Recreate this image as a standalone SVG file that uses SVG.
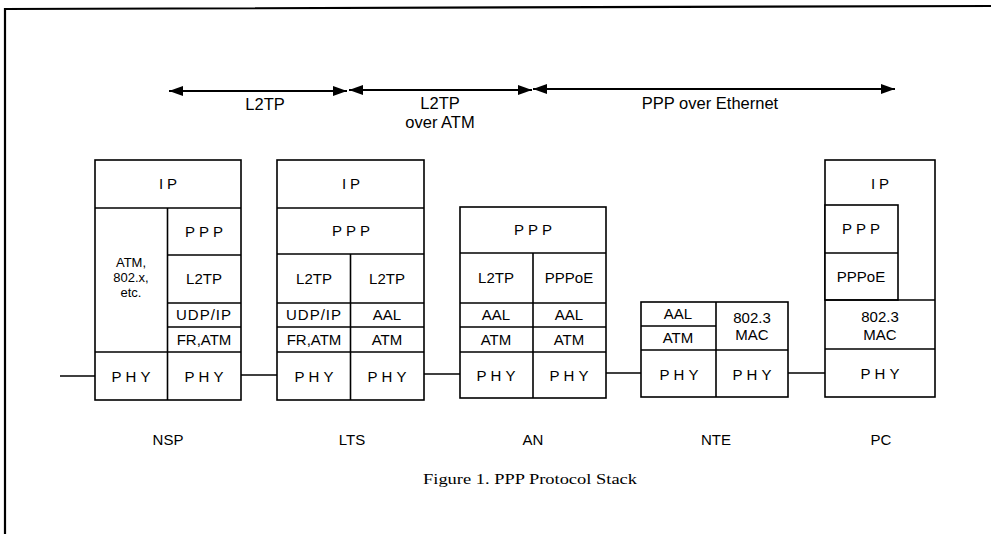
<svg xmlns="http://www.w3.org/2000/svg" width="991" height="534" viewBox="0 0 991 534">
<style>
  .bx{fill:#fff;stroke:#000;stroke-width:1.6}
  .ln{stroke:#000;stroke-width:1.6;fill:none}
  .t{font-family:"Liberation Sans",Arial,sans-serif;font-size:15px;fill:#000;text-anchor:middle}
  .s{font-size:13px}
  .sp{letter-spacing:4px}
  .a{font-family:"Liberation Sans",Arial,sans-serif;font-size:16.5px;fill:#000;text-anchor:middle}
  .cap{font-family:"Liberation Serif","Times New Roman",serif;font-size:15px;fill:#000;text-anchor:middle}
  .arr{stroke:#000;stroke-width:1.8;fill:none;marker-start:url(#ah);marker-end:url(#ah)}
</style>
<defs>
  <marker id="ah" viewBox="0 0 14 10" refX="14" refY="5" markerWidth="14" markerHeight="10" markerUnits="userSpaceOnUse" orient="auto-start-reverse">
    <path d="M0,0 L14,5 L0,10 z" fill="#000"/>
  </marker>
</defs>
<rect width="991" height="534" fill="#fff"/>
<!-- frame -->
<path d="M5,534 L5,9 L991,6" stroke="#000" stroke-width="2.2" fill="none"/>

<!-- range arrows -->
<g id="ranges">
  <line class="arr" x1="169" y1="91" x2="347" y2="91"/>
  <line class="arr" x1="349" y1="90" x2="532" y2="90"/>
  <line class="arr" x1="533" y1="89" x2="895" y2="89"/>
  <text class="a" x="265" y="110">L2TP</text>
  <text class="a" x="440" y="109">L2TP</text>
  <text class="a" x="440" y="128">over ATM</text>
  <text class="a" x="710" y="109">PPP over Ethernet</text>
</g>

<!-- connectors -->
<g id="connectors">
  <line class="ln" x1="60" y1="376" x2="95" y2="376"/>
  <line class="ln" x1="241" y1="375" x2="277" y2="375"/>
  <line class="ln" x1="424" y1="374" x2="460" y2="374"/>
  <line class="ln" x1="606" y1="373" x2="641" y2="373"/>
  <line class="ln" x1="788" y1="373" x2="825" y2="373"/>
</g>

<!-- NSP -->
<g id="nsp">
  <rect class="bx" x="95" y="160" width="146" height="240"/>
  <line class="ln" x1="95" y1="208" x2="241" y2="208"/>
  <line class="ln" x1="167.5" y1="208" x2="167.5" y2="400"/>
  <line class="ln" x1="167.5" y1="255" x2="241" y2="255"/>
  <line class="ln" x1="167.5" y1="303" x2="241" y2="303"/>
  <line class="ln" x1="167.5" y1="327" x2="241" y2="327"/>
  <line class="ln" x1="95" y1="352" x2="241" y2="352"/>
  <text class="t sp" x="170" y="189">IP</text>
  <text class="t s" x="131" y="267">ATM,</text>
  <text class="t s" x="131" y="282">802.x,</text>
  <text class="t s" x="131" y="297">etc.</text>
  <text class="t sp" x="206" y="237">PPP</text>
  <text class="t" x="204" y="284">L2TP</text>
  <text class="t" x="204" y="320" style="letter-spacing:1px">UDP/IP</text>
  <text class="t" x="204" y="345">FR,ATM</text>
  <text class="t sp" x="133" y="382">PHY</text>
  <text class="t sp" x="206" y="382">PHY</text>
  <text class="t" x="168" y="445">NSP</text>
</g>

<!-- LTS -->
<g id="lts">
  <rect class="bx" x="277" y="160" width="147" height="240"/>
  <line class="ln" x1="277" y1="208" x2="424" y2="208"/>
  <line class="ln" x1="277" y1="254" x2="424" y2="254"/>
  <line class="ln" x1="350.5" y1="254" x2="350.5" y2="400"/>
  <line class="ln" x1="277" y1="303" x2="424" y2="303"/>
  <line class="ln" x1="277" y1="327" x2="424" y2="327"/>
  <line class="ln" x1="277" y1="352" x2="424" y2="352"/>
  <text class="t sp" x="353" y="189">IP</text>
  <text class="t sp" x="353" y="236">PPP</text>
  <text class="t" x="314" y="284">L2TP</text>
  <text class="t" x="387" y="284">L2TP</text>
  <text class="t" x="314" y="320" style="letter-spacing:1px">UDP/IP</text>
  <text class="t" x="387" y="320">AAL</text>
  <text class="t" x="314" y="345">FR,ATM</text>
  <text class="t" x="387" y="345">ATM</text>
  <text class="t sp" x="316" y="382">PHY</text>
  <text class="t sp" x="389" y="382">PHY</text>
  <text class="t" x="352" y="445">LTS</text>
</g>

<!-- AN -->
<g id="an">
  <rect class="bx" x="460" y="207" width="146" height="191"/>
  <line class="ln" x1="460" y1="253" x2="606" y2="253"/>
  <line class="ln" x1="533" y1="253" x2="533" y2="398"/>
  <line class="ln" x1="460" y1="303" x2="606" y2="303"/>
  <line class="ln" x1="460" y1="327" x2="606" y2="327"/>
  <line class="ln" x1="460" y1="352" x2="606" y2="352"/>
  <text class="t sp" x="535" y="235">PPP</text>
  <text class="t" x="496" y="283">L2TP</text>
  <text class="t" x="569" y="283">PPPoE</text>
  <text class="t" x="496" y="320">AAL</text>
  <text class="t" x="569" y="320">AAL</text>
  <text class="t" x="496" y="345">ATM</text>
  <text class="t" x="569" y="345">ATM</text>
  <text class="t sp" x="498" y="381">PHY</text>
  <text class="t sp" x="571" y="381">PHY</text>
  <text class="t" x="533" y="445">AN</text>
</g>

<!-- NTE -->
<g id="nte">
  <rect class="bx" x="641" y="302" width="147" height="95"/>
  <line class="ln" x1="716" y1="302" x2="716" y2="397"/>
  <line class="ln" x1="641" y1="326" x2="716" y2="326"/>
  <line class="ln" x1="641" y1="350" x2="788" y2="350"/>
  <text class="t" x="678" y="319">AAL</text>
  <text class="t" x="678" y="343">ATM</text>
  <text class="t" x="752" y="323">802.3</text>
  <text class="t" x="752" y="340">MAC</text>
  <text class="t sp" x="681" y="380">PHY</text>
  <text class="t sp" x="754" y="380">PHY</text>
  <text class="t" x="716" y="445">NTE</text>
</g>

<!-- PC -->
<g id="pc">
  <rect class="bx" x="825" y="160" width="110" height="237"/>
  <rect class="bx" x="825" y="205" width="73" height="95"/>
  <line class="ln" x1="825" y1="253" x2="898" y2="253"/>
  <line class="ln" x1="825" y1="300" x2="935" y2="300"/>
  <line class="ln" x1="825" y1="349" x2="935" y2="349"/>
  <text class="t sp" x="882" y="189">IP</text>
  <text class="t sp" x="863" y="234">PPP</text>
  <text class="t" x="861" y="282">PPPoE</text>
  <text class="t" x="880" y="322">802.3</text>
  <text class="t" x="880" y="340">MAC</text>
  <text class="t sp" x="882" y="379">PHY</text>
  <text class="t" x="881" y="445">PC</text>
</g>

<text class="cap" x="530" y="484" textLength="214" lengthAdjust="spacingAndGlyphs">Figure 1. PPP Protocol Stack</text>
</svg>
